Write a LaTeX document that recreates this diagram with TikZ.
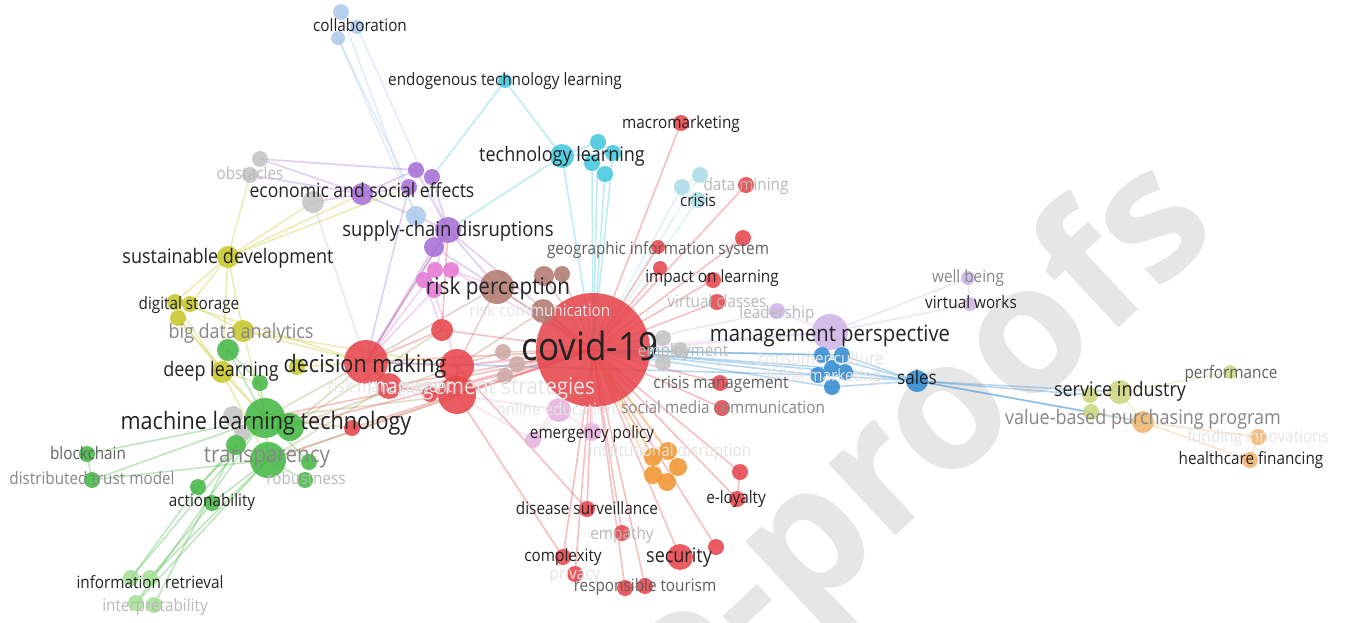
\documentclass[tikz,border=0pt]{standalone}
\usepackage{fontspec}
\setmainfont{Open Sans}[FakeStretch=0.9]
\newfontfamily\wmfont{Open Sans}
\pgfdeclarelayer{wm}
\pgfdeclarelayer{edges}
\pgfsetlayers{wm,edges,main}

% cluster colours
\definecolor{cr}{RGB}{231,70,76}
\definecolor{cb}{RGB}{178,122,112}
\definecolor{clbr}{RGB}{205,170,165}
\definecolor{cp}{RGB}{228,120,215}
\definecolor{clp}{RGB}{232,178,222}
\definecolor{cpu}{RGB}{168,112,215}
\definecolor{clb}{RGB}{172,202,236}
\definecolor{cg}{RGB}{196,196,196}
\definecolor{ccy}{RGB}{70,200,222}
\definecolor{clc}{RGB}{172,220,230}
\definecolor{clpu}{RGB}{206,182,232}
\definecolor{cbl}{RGB}{52,140,210}
\definecolor{cyg}{RGB}{205,215,130}
\definecolor{clo}{RGB}{242,182,112}
\definecolor{cor}{RGB}{240,150,50}
\definecolor{cy}{RGB}{200,200,45}
\definecolor{cgr}{RGB}{70,185,70}
\definecolor{clg}{RGB}{165,225,150}
\definecolor{col}{RGB}{170,160,90}
% label colours
\definecolor{tdark}{RGB}{35,35,35}
\definecolor{tmd}{RGB}{95,95,95}
\definecolor{tmid}{RGB}{135,135,135}
\definecolor{tlight}{RGB}{185,185,185}
\definecolor{tvl}{RGB}{228,228,228}
\definecolor{wmc}{RGB}{230,230,230}

% bubble: name, x, y, radius, colour
\newcommand\bub[5]{\node[bubble,fill=#5,minimum size={2*#4}] (#1) at (#2,#3) {};}
% label: name, x, y, size, colour, text
\newcommand\lbl[6]{\node[lbl,text=#5,font=\fontsize{#4}{#4}\selectfont] (#1) at (#2,{#3+0.28*#4}) {#6};}

\begin{document}
\begin{tikzpicture}[x=1pt,y=-1pt,
  bubble/.style={circle,inner sep=0pt,outer sep=0pt,draw=none,fill opacity=0.88},
  conn/.style={draw=#1,line width=1.6pt,draw opacity=0.34},
  lbl/.style={inner sep=0pt,anchor=base}]
\useasboundingbox (0,0) rectangle (1346,622);

\begin{pgfonlayer}{wm}
  \fill[white] (0,0) rectangle (1346,622);
  \clip (0,0) rectangle (1346,622);
  \node[rotate=43,anchor=base east,text=wmc,inner sep=0pt,
        font=\wmfont\bfseries\fontsize{180}{180}\selectfont] (wmark) at (1222,232) {e-proofs};
\end{pgfonlayer}

% ---------- bubbles ----------
% red cluster
\bub{covid}{593}{350}{57}{cr}
\bub{macro}{681}{123}{8}{cr}
\bub{dmin}{746}{185}{8}{cr}
\bub{geo}{658}{247}{7}{cr}
\bub{geoB}{743}{238}{8}{cr}
\bub{impA}{660}{268}{7}{cr}
\bub{imp}{713}{280}{8}{cr}
\bub{vcl}{717}{302}{8}{cr}
\bub{crm}{720}{383}{8}{cr}
\bub{smc}{722}{408}{8}{cr}
\bub{eloyA}{740}{472}{8}{cr}
\bub{eloyB}{737}{499}{8}{cr}
\bub{dis}{587}{509}{8}{cr}
\bub{emp}{622}{533}{8}{cr}
\bub{cpx}{563}{557}{8}{cr}
\bub{prv}{575}{574}{8}{cr}
\bub{sec}{680}{557}{13}{cr}
\bub{secB}{716}{547}{8}{cr}
\bub{rtA}{625}{588}{8}{cr}
\bub{rtB}{645}{586}{8}{cr}
\bub{dec}{366}{362}{22}{cr}
\bub{rA}{457}{366}{17}{cr}
\bub{rB}{457}{395}{19}{cr}
\bub{rC}{442}{330}{11}{cr}
\bub{rD}{389}{386}{13}{cr}
\bub{rE}{430}{394}{8}{cr}
\bub{rF}{352}{428}{8}{cr}
% brown cluster
\bub{riskp}{497}{287}{17}{cb}
\bub{bnA}{544}{276}{10}{cb}
\bub{bnB}{562}{274}{8}{cb}
\bub{bnC}{543}{311}{12}{cb}
\bub{wA}{503}{352}{8}{clbr}
\bub{wB}{517}{364}{8}{clbr}
\bub{wC}{505}{376}{8}{clbr}
% pink
\bub{pA}{435}{270}{8}{cp}
\bub{pB}{451}{270}{8}{cp}
\bub{pC}{434}{290}{8}{cp}
\bub{pD}{424}{280}{8}{cp}
\bub{onl}{559}{410}{12}{clp}
\bub{emg}{592}{432}{9}{clp}
\bub{lpC}{533}{440}{8}{clp}
% purple
\bub{econ}{362}{194}{11}{cpu}
\bub{supply}{448}{230}{13}{cpu}
\bub{puA}{416}{170}{8}{cpu}
\bub{puB}{432}{177}{8}{cpu}
\bub{puC}{409}{187}{8}{cpu}
\bub{puD}{434}{247}{10}{cpu}
% light blue
\bub{colA}{341}{12}{8}{clb}
\bub{colB}{357}{27}{7}{clb}
\bub{colC}{338}{38}{7}{clb}
\bub{lbD}{416}{216}{10}{clb}
% grey
\bub{obsA}{260}{159}{8}{cg}
\bub{obsB}{250}{175}{8}{cg}
\bub{gC}{313}{202}{11}{cg}
\bub{gD}{233}{416}{10}{cg}
\bub{gE}{242}{433}{8}{cg}
\bub{emA}{663}{338}{8}{cg}
\bub{emB}{680}{350}{8}{cg}
\bub{emC}{663}{363}{8}{cg}
% cyan
\bub{endo}{505}{81}{7}{ccy}
\bub{tech}{562}{156}{12}{ccy}
\bub{cA}{598}{142}{8}{ccy}
\bub{cB}{613}{153}{8}{ccy}
\bub{cC}{592}{163}{8}{ccy}
\bub{cD}{605}{174}{8}{ccy}
% light cyan
\bub{crA}{682}{187}{8}{clc}
\bub{crB}{700}{175}{8}{clc}
\bub{crC}{698}{200}{8}{clc}
% light purple
\bub{mgmt}{830}{332}{18}{clpu}
\bub{lead}{777}{311}{8}{clpu}
\bub{well}{968}{278}{7}{clpu}
\bub{vw}{970}{304}{7}{clpu}
% blue
\bub{uA}{822}{355}{8}{cbl}
\bub{uB}{842}{355}{8}{cbl}
\bub{uC}{832}{368}{8}{cbl}
\bub{uD}{818}{375}{8}{cbl}
\bub{uE}{845}{372}{8}{cbl}
\bub{uF}{832}{387}{8}{cbl}
\bub{sales}{917}{381}{11}{cbl}
% yellow-green
\bub{serv}{1120}{392}{12}{cyg}
\bub{ygB}{1090}{395}{8}{cyg}
\bub{ygC}{1091}{412}{8}{cyg}
\bub{perf}{1230}{372}{7}{cyg}
% light orange
\bub{vbp}{1143}{422}{11}{clo}
\bub{fund}{1258}{437}{8}{clo}
\bub{hcf}{1250}{460}{8}{clo}
% orange
\bub{oA}{653}{457}{9}{cor}
\bub{oB}{668}{451}{9}{cor}
\bub{oC}{678}{467}{9}{cor}
\bub{oD}{653}{475}{9}{cor}
\bub{oE}{667}{482}{9}{cor}
% yellow
\bub{sust}{228}{257}{11}{cy}
\bub{dsA}{175}{302}{8}{cy}
\bub{dsB}{190}{304}{8}{cy}
\bub{dsC}{178}{318}{8}{cy}
\bub{bda}{243}{331}{11}{cy}
\bub{deep}{222}{372}{11}{cy}
\bub{yE}{297}{367}{8}{cy}
% green
\bub{bdg}{228}{350}{11}{cgr}
\bub{gF}{260}{383}{8}{cgr}
\bub{mlt}{265}{418}{20}{cgr}
\bub{grB}{290}{427}{14}{cgr}
\bub{transp}{268}{460}{18}{cgr}
\bub{grD}{236}{445}{10}{cgr}
\bub{robA}{309}{462}{8}{cgr}
\bub{robB}{305}{480}{8}{cgr}
\bub{block}{87}{454}{8}{cgr}
\bub{dtm}{92}{480}{8}{cgr}
\bub{actA}{198}{487}{8}{cgr}
\bub{actB}{212}{503}{8}{cgr}
% light green
\bub{irA}{131}{578}{8}{clg}
\bub{irB}{150}{578}{8}{clg}
\bub{inA}{136}{603}{8}{clg}
\bub{inB}{154}{605}{8}{clg}

% ---------- links ----------
\begin{pgfonlayer}{edges}
\foreach \t in {macro,dmin,geo,geoB,imp,impA,vcl,crm,smc,eloyA,eloyB,dis,emp,cpx,prv,sec,secB,rtA,rtB,dec,rA,rB,rC,rD,rE,rF,mlt,grB,transp}
  \draw[conn=cr] (covid.center) -- (\t.center);
\foreach \a/\b in {dec/rA,dec/rC,rA/rB,rC/supply,dec/supply,rB/rE,dec/rD,rD/rB,eloyA/eloyB,rtA/rtB,rA/dis,rB/cpx}
  \draw[conn=cr] (\a.center) -- (\b.center);
\foreach \a/\b in {dec/mlt,rB/mlt,rB/transp,rA/grB,dec/grB,rD/transp,rF/mlt,rC/grB}
  \draw[conn=col] (\a.center) -- (\b.center);
% cyan
\foreach \a/\b in {endo/tech,endo/puB,tech/supply,tech/cA,tech/cB,cA/covid,cB/covid,cC/covid,cD/covid,tech/covid}
  \draw[conn=ccy] (\a.center) -- (\b.center);
\foreach \a/\b in {crA/covid,crB/covid,crC/covid,crA/crB}
  \draw[conn=clc] (\a.center) -- (\b.center);
% light blue
\foreach \a/\b in {colA/lbD,colB/supply,colC/lbD,colC/puC}
  \draw[conn=clb] (\a.center) -- (\b.center);
% purple
\foreach \a/\b in {econ/obsA,econ/obsB,econ/gC,econ/puA,econ/puC,econ/supply,puA/supply,puB/supply,supply/dec,supply/covid,supply/riskp,puD/dec,obsA/puA,puD/covid,puC/dec}
  \draw[conn=cpu] (\a.center) -- (\b.center);
% grey
\foreach \a/\b in {gD/mlt,gE/mlt,emA/covid,emB/covid,emC/covid,gC/dec}
  \draw[conn=cg] (\a.center) -- (\b.center);
% yellow
\foreach \a/\b in {sust/dsA,sust/dsB,sust/bda,sust/deep,sust/econ,sust/obsB,sust/puC,dsA/deep,dsB/bda,dsC/mlt,dsA/dec,bda/dec,deep/mlt,deep/transp,bda/mlt,yE/dec,deep/gF,sust/gC,dsC/deep,bda/rA}
  \draw[conn=cy] (\a.center) -- (\b.center);
% green
\foreach \a/\b in {mlt/block,mlt/dtm,transp/dtm,block/dtm,mlt/actA,transp/actB,mlt/irA,transp/irB,mlt/inA,grD/inB,transp/inA,actA/irA,actB/irB,mlt/grB,mlt/transp,mlt/bdg,bdg/gF,gF/mlt,robA/mlt,robB/transp,grD/actA,bdg/deep}
  \draw[conn=cgr] (\a.center) -- (\b.center);
% pink
\foreach \a/\b in {pA/dec,pB/covid,pC/dec,pD/rC,pA/supply,pB/riskp,pC/rA}
  \draw[conn=cp] (\a.center) -- (\b.center);
\foreach \a/\b in {onl/covid,onl/rB,emg/covid,lpC/covid,lpC/onl,emg/onl,lpC/rB}
  \draw[conn=clp] (\a.center) -- (\b.center);
% brown
\foreach \a/\b in {riskp/covid,riskp/dec,riskp/rA,bnA/covid,bnB/covid,bnC/covid,bnC/rA,wA/covid,wB/covid,wC/covid,wA/rA,wC/rB}
  \draw[conn=cb] (\a.center) -- (\b.center);
% orange
\foreach \a/\b in {oA/covid,oB/covid,oC/covid,oD/covid,oE/covid,oA/oB,oC/oE}
  \draw[conn=cor] (\a.center) -- (\b.center);
% light purple
\foreach \a/\b in {mgmt/well,mgmt/vw,well/vw,lead/mgmt,mgmt/covid,lead/covid,mgmt/rA}
  \draw[conn=clpu] (\a.center) -- (\b.center);
% blue
\foreach \a/\b in {uA/covid,uB/covid,uC/covid,uD/covid,uE/covid,uF/covid,uA/sales,uB/sales,uC/sales,uD/sales,uE/sales,uF/sales,sales/serv,sales/ygB,sales/vbp,sales/ygC,uD/dec}
  \draw[conn=cbl] (\a.center) -- (\b.center);
% service / purchasing
\foreach \a/\b in {serv/perf,serv/ygB,ygB/ygC,serv/vbp,ygC/vbp}
  \draw[conn=cyg] (\a.center) -- (\b.center);
\foreach \a/\b in {vbp/fund,vbp/hcf,fund/hcf}
  \draw[conn=clo] (\a.center) -- (\b.center);
\end{pgfonlayer}

% ---------- labels ----------
\lbl{Lriskm}{390}{388}{17}{tvl}{risk management}
\lbl{Lmstrat}{481}{388}{23}{tvl}{management strategies}
\lbl{Lriskc}{540}{312}{17}{tvl}{risk communication}
\lbl{Lonline}{556}{411}{17}{tvl}{online education}
\lbl{Linst}{670}{452}{17}{tvl}{institutional disruption}
\lbl{Lcons}{821}{360}{17}{tvl}{consumer culture}
\lbl{Ldig}{821}{377}{17}{tvl}{digital marketing}
\lbl{Lfund}{1258}{438}{17}{tvl}{funding innovations}
\lbl{Lpriv}{575}{575}{17}{tvl}{privacy}
\lbl{Lcoll}{360}{27}{17}{tdark}{collaboration}
\lbl{Lendo}{505}{81}{17}{tdark}{endogenous technology learning}
\lbl{Lmacro}{681}{124}{17}{tdark}{macromarketing}
\lbl{Ltech}{562}{156}{20}{tdark}{technology learning}
\lbl{Ldm}{746}{186}{17}{tlight}{data mining}
\lbl{Lcrisis}{698}{202}{17}{tdark}{crisis}
\lbl{Lobs}{250}{175}{17}{tlight}{obstacles}
\lbl{Lecon}{362}{192}{19.5}{tdark}{economic and social effects}
\lbl{Lsupply}{448}{231}{20.5}{tdark}{supply-chain disruptions}
\lbl{Lgeo}{658}{250}{17}{tmd}{geographic information system}
\lbl{Limp}{712}{278}{17}{tdark}{impact on learning}
\lbl{Lriskp}{498}{288}{23}{tdark}{risk perception}
\lbl{Lvcl}{717}{303}{17}{tlight}{virtual classes}
\lbl{Llead}{777}{314}{17}{tlight}{leadership}
\lbl{Lcovid}{590}{350}{39}{tdark}{covid-19}
\lbl{Lmgmt}{830}{335}{22.5}{tdark}{management perspective}
\lbl{Lemp}{683}{352}{17}{tlight}{employment}
\lbl{Lsales}{917}{379}{19}{tdark}{sales}
\lbl{Lwell}{968}{278}{17}{tmid}{well being}
\lbl{Lvw}{971}{304}{17}{tdark}{virtual works}
\lbl{Lserv}{1120}{391}{20}{tdark}{service industry}
\lbl{Lperf}{1231}{374}{17}{tmd}{performance}
\lbl{Lvbp}{1143}{419}{20}{tmid}{value-based purchasing program}
\lbl{Lhcf}{1251}{460}{17}{tdark}{healthcare financing}
\lbl{Lcrm}{721}{384}{17}{tmd}{crisis management}
\lbl{Lsmc}{723}{409}{17}{tmid}{social media communication}
\lbl{Lemg}{592}{434}{17}{tdark}{emergency policy}
\lbl{Leloy}{736}{499}{17}{tdark}{e-loyalty}
\lbl{Ldis}{587}{510}{17}{tdark}{disease surveillance}
\lbl{Lemp2}{622}{535}{17}{tlight}{empathy}
\lbl{Lcpx}{563}{557}{17}{tdark}{complexity}
\lbl{Lsec}{679}{557}{20}{tdark}{security}
\lbl{Lrt}{645}{587}{17}{tmd}{responsible tourism}
\lbl{Lsust}{228}{258}{20}{tdark}{sustainable development}
\lbl{Lds}{189}{305}{17}{tdark}{digital storage}
\lbl{Lbda}{241}{333}{20}{tmid}{big data analytics}
\lbl{Ldeep}{221}{371}{20}{tdark}{deep learning}
\lbl{Ldec}{365}{366}{24}{tdark}{decision making}
\lbl{Lmlt}{266}{423}{24}{tdark}{machine learning technology}
\lbl{Ltransp}{267}{456}{23}{tmid}{transparency}
\lbl{Lrob}{306}{480}{17}{tlight}{robustness}
\lbl{Lblock}{88}{455}{17}{tmd}{blockchain}
\lbl{Ldtm}{92}{480}{17}{tmid}{distributed trust model}
\lbl{Lact}{212}{502}{17}{tdark}{actionability}
\lbl{Lir}{150}{584}{17}{tdark}{information retrieval}
\lbl{Lint}{155}{607}{17}{tlight}{interpretability}
\end{tikzpicture}
\end{document}
